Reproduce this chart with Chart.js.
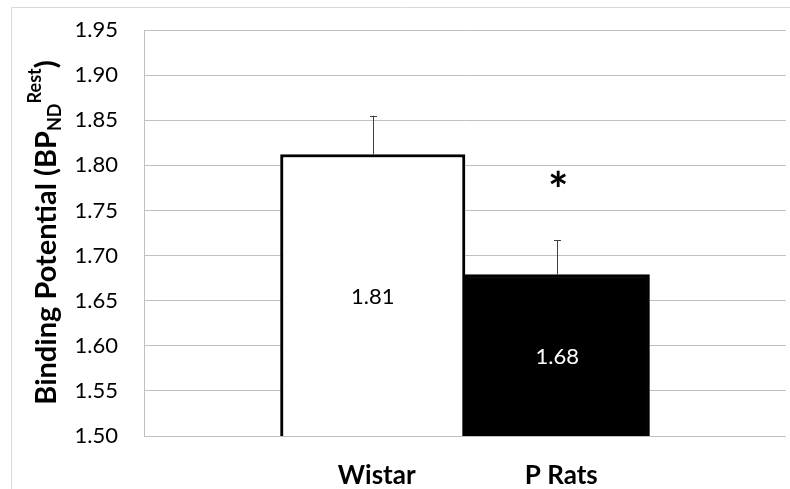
<!DOCTYPE html>
<html>
<head>
<meta charset="utf-8">
<script src="https://cdn.jsdelivr.net/npm/chart.js@4/dist/chart.umd.min.js"></script>
<style>
  html, body { margin: 0; padding: 0; background: #ffffff; }
  #wrap { position: relative; width: 790px; height: 489px; }
  canvas { display: block; }
</style>
</head>
<body>
<div id="wrap"><canvas id="c" width="790" height="489"></canvas></div>
<script>
// ---- data ----
const categories = ['Wistar', 'P Rats'];
const values = [1.812, 1.679];
const errors = [0.043, 0.038];
const valueLabels = ['1.81', '1.68'];
const significance = ['', '*'];
const yTickValues = [1.50, 1.55, 1.60, 1.65, 1.70, 1.75, 1.80, 1.85, 1.90, 1.95];
const yTitleMain = 'Binding Potential (BP';
const yTitleSub = 'ND';
const yTitleSup = 'Rest';
const yTitleEnd = ')';
// ---- styles ----
const barFills = ['#ffffff', '#000000'];
const labelColors = ['#000000', '#ffffff'];
const gridColor = '#c0c0c0';
const FONT = 'Lato, "Open Sans", sans-serif';
const starValue = 1.785;

const positions = categories.map((c, i) => i + 1);

const frame = {
  id: 'frame',
  beforeDraw(chart) {
    const ctx = chart.ctx;
    ctx.save();
    ctx.strokeStyle = '#d9d9d9';
    ctx.lineWidth = 1;
    ctx.beginPath();
    ctx.moveTo(11.5, 489);
    ctx.lineTo(11.5, 7.5);
    ctx.lineTo(790, 7.5);
    ctx.stroke();
    ctx.restore();
  }
};

const extras = {
  id: 'extras',
  afterDatasetsDraw(chart) {
    const ctx = chart.ctx;
    const meta = chart.getDatasetMeta(0);
    const y = chart.scales.y;
    const basePx = y.getPixelForValue(y.min);
    ctx.save();
    meta.data.forEach((bar, i) => {
      const topPx = y.getPixelForValue(values[i]);
      // error bar
      const yTop = y.getPixelForValue(values[i] + errors[i]);
      const x = Math.round(bar.x) + 0.5;
      ctx.strokeStyle = '#404040';
      ctx.lineWidth = 1;
      ctx.beginPath();
      ctx.moveTo(x, topPx);
      ctx.lineTo(x, yTop);
      ctx.moveTo(x - 3.5, Math.round(yTop) + 0.5);
      ctx.lineTo(x + 3.5, Math.round(yTop) + 0.5);
      ctx.stroke();
      // value label
      ctx.fillStyle = labelColors[i];
      ctx.font = '22px ' + FONT;
      ctx.textAlign = 'center';
      ctx.textBaseline = 'middle';
      ctx.fillText(valueLabels[i], bar.x, (topPx + basePx) / 2 + 2);
      // significance marker
      if (significance[i]) {
        ctx.fillStyle = '#000000';
        ctx.font = 'bold 48px ' + FONT;
        ctx.textBaseline = 'alphabetic';
        const m = ctx.measureText(significance[i]);
        const cy = y.getPixelForValue(starValue);
        const base = cy + (m.actualBoundingBoxAscent - m.actualBoundingBoxDescent) / 2;
        ctx.fillText(significance[i], bar.x + 1, base);
      }
    });
    ctx.restore();

    // y axis title with sub/superscript
    ctx.save();
    const mainFont = 'bold 29px ' + FONT;
    const smallFont = 'bold 18px ' + FONT;
    ctx.font = mainFont;
    const w1 = ctx.measureText(yTitleMain).width;
    const w4 = ctx.measureText(yTitleEnd).width;
    ctx.font = smallFont;
    const w2 = ctx.measureText(yTitleSub).width;
    const w3 = ctx.measureText(yTitleSup).width;
    const total = w1 + w2 + w3 + w4;
    ctx.translate(56, 232.5);
    ctx.rotate(-Math.PI / 2);
    ctx.fillStyle = '#000000';
    ctx.textAlign = 'left';
    ctx.textBaseline = 'alphabetic';
    let cx = -total / 2;
    ctx.font = mainFont;
    ctx.fillText(yTitleMain, cx, 0); cx += w1;
    ctx.font = smallFont;
    ctx.fillText(yTitleSub, cx, 5); cx += w2;
    ctx.fillText(yTitleSup, cx, -15); cx += w3;
    ctx.font = mainFont;
    ctx.fillText(yTitleEnd, cx, 0);
    ctx.restore();
  }
};

new Chart(document.getElementById('c'), {
  type: 'bar',
  data: {
    datasets: [{
      data: positions.map((p, i) => ({ x: p, y: values[i] })),
      backgroundColor: barFills,
      borderColor: '#000000',
      borderWidth: 3,
      borderSkipped: false,
      barPercentage: 1,
      categoryPercentage: 1
    }]
  },
  options: {
    responsive: false,
    animation: false,
    devicePixelRatio: 1,
    layout: { padding: { top: 30, right: 4, left: 0, bottom: 0 } },
    plugins: { legend: { display: false }, tooltip: { enabled: false } },
    scales: {
      x: {
        type: 'linear',
        offset: false,
        bounds: 'data',
        min: -0.24,
        max: 3.24,
        afterBuildTicks: (s) => { s.ticks = positions.map(v => ({ value: v })); },
        afterFit: (s) => { s.height = 53; s.paddingLeft = 0; s.paddingRight = 0; },
        grid: { display: false, drawTicks: false, offset: false },
        border: { display: false },
        ticks: {
          padding: 24,
          labelOffset: 4,
          color: '#000000',
          font: { family: FONT, size: 26, weight: 'bold' },
          callback: (v) => categories[positions.indexOf(v)] || ''
        }
      },
      y: {
        min: 1.5,
        max: 1.95,
        afterBuildTicks: (s) => { s.ticks = yTickValues.map(v => ({ value: v })); },
        afterFit: (s) => { s.width = 144; s.paddingTop = 0; s.paddingBottom = 0; },
        grid: { color: gridColor, lineWidth: 1, drawTicks: false },
        border: { display: true, color: gridColor, width: 1 },
        ticks: {
          padding: 26,
          color: '#000000',
          font: { family: FONT, size: 22 },
          callback: (v) => Number(v).toFixed(2)
        }
      }
    }
  },
  plugins: [frame, extras]
});
</script>
</body>
</html>
